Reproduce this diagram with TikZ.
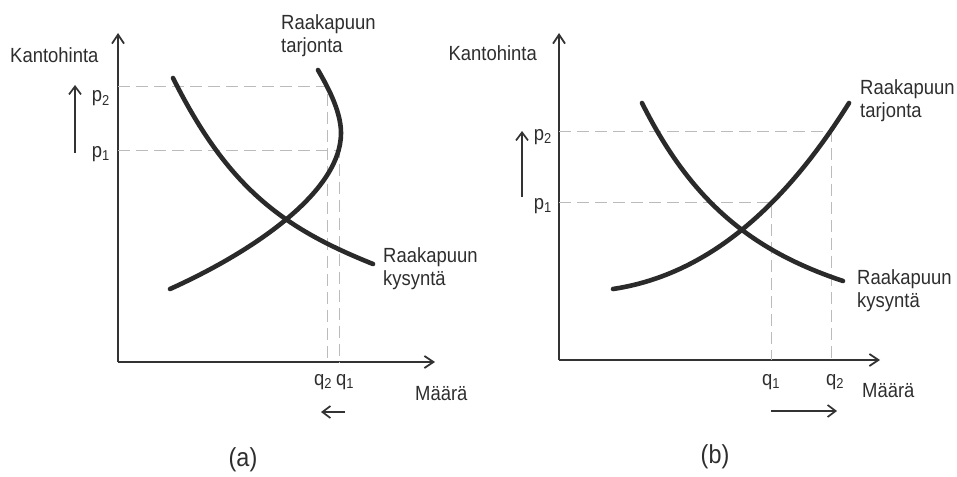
\documentclass[tikz,border=0pt]{standalone}
\usepackage{fontspec}
\setmainfont{Liberation Sans}[FakeStretch=0.9]
\usetikzlibrary{arrows.meta}
\definecolor{axc}{HTML}{333333}
\definecolor{curc}{HTML}{2A2A2A}
\definecolor{guidec}{HTML}{BBBBBB}
\definecolor{txtc}{HTML}{2E2E2E}
\begin{document}
\begin{tikzpicture}[x=1pt,y=-1pt,
  axis/.style={draw=axc, line width=1.6pt, -{Straight Barb[length=9pt,width=12pt,line width=1.8pt]}},
  curve/.style={draw=curc, line width=4.6pt, line cap=round},
  guide/.style={draw=guidec, line width=0.8pt, dash pattern=on 12pt off 6pt},
  move/.style={draw=axc, line width=1.4pt, -{Straight Barb[length=8pt,width=12pt,line width=1.7pt]}},
  lbl/.style={inner sep=0pt, font=\fontsize{20.5}{23.5}\selectfont, text=txtc},
  sub/.style={inner sep=0pt, font=\fontsize{20.5}{23.5}\selectfont, text=txtc},
  figcap/.style={inner sep=0pt, font=\fontsize{26}{30}\selectfont, text=txtc}]
\useasboundingbox (0,0) rectangle (957,476);

% ---------- panel (a) ----------
\coordinate (oa) at (118,362);
\coordinate (ya) at (118,33);
\coordinate (xa) at (435,362);
\draw[axis] (oa) -- (ya);
\draw[axis] (oa) -- (xa);

\coordinate (p2a) at (118,86.7);
\coordinate (s2a) at (327,86.7);
\coordinate (q2a) at (327,362);
\coordinate (p1a) at (118,150.7);
\coordinate (s1a) at (339,150.7);
\coordinate (q1a) at (339,362);
\draw[guide] (p2a) -- (s2a) -- (q2a);
\draw[guide] (p1a) -- (s1a) -- (q1a);

\draw[curve] (173,78) .. controls (228,188) and (283,228) .. (373,264);
\draw[curve] (170,289) .. controls (250,253) and (341,193) .. (341,133)
             .. controls (341,110) and (326,84) .. (318,70);

\node[lbl, anchor=west] (ka) at (10,55) {Kantohinta};
\node[lbl, anchor=north west, align=left] (ta) at (281,14) {Raakapuun\\tarjonta};
\node[lbl, anchor=north west, align=left] (da) at (383,247) {Raakapuun\\kysyntä};
\node[lbl, anchor=west] (ma) at (415,394) {Määrä};
\node[sub, anchor=base east] (lp2a) at (110,102) {p\textsubscript{2}};
\node[sub, anchor=base east] (lp1a) at (110,157) {p\textsubscript{1}};
\node[sub, anchor=base] (lq2a) at (323,385) {q\textsubscript{2}};
\node[sub, anchor=base] (lq1a) at (345,385) {q\textsubscript{1}};
\node[figcap] (capa) at (243,460) {(a)};

\coordinate (ua0) at (75,153);
\coordinate (ua1) at (75,85);
\draw[move] (ua0) -- (ua1);
\coordinate (la0) at (345,412);
\coordinate (la1) at (321,412);
\draw[move] (la0) -- (la1);

% ---------- panel (b) ----------
\coordinate (ob) at (559,360);
\coordinate (yb) at (559,33);
\coordinate (xb) at (880,360);
\draw[axis] (ob) -- (yb);
\draw[axis] (ob) -- (xb);

\coordinate (p2b) at (559,131.7);
\coordinate (s2b) at (831,131.7);
\coordinate (q2b) at (831,360);
\coordinate (p1b) at (559,202);
\coordinate (s1b) at (771,202);
\coordinate (q1b) at (771,360);
\draw[guide] (p2b) -- (s2b) -- (q2b);
\draw[guide] (p1b) -- (s1b) -- (q1b);

\draw[curve] (642,103) .. controls (692,203) and (753,251) .. (843,281);
\draw[curve] (613,289) .. controls (713,274) and (789,199) .. (849,103);

\node[lbl, anchor=east] (kb) at (537,53) {Kantohinta};
\node[lbl, anchor=north west, align=left] (tb) at (860,79) {Raakapuun\\tarjonta};
\node[lbl, anchor=north west, align=left] (db) at (857,269) {Raakapuun\\kysyntä};
\node[lbl, anchor=west] (mb) at (862,391) {Määrä};
\node[sub, anchor=base east] (lp2b) at (552,140) {p\textsubscript{2}};
\node[sub, anchor=base east] (lp1b) at (552,209) {p\textsubscript{1}};
\node[sub, anchor=base] (lq1b) at (771,385) {q\textsubscript{1}};
\node[sub, anchor=base] (lq2b) at (835,385) {q\textsubscript{2}};
\node[figcap] (capb) at (715,457) {(b)};

\coordinate (ub0) at (522,197);
\coordinate (ub1) at (522,131);
\draw[move] (ub0) -- (ub1);
\coordinate (rb0) at (771,411);
\coordinate (rb1) at (837,411);
\draw[move] (rb0) -- (rb1);
\end{tikzpicture}
\end{document}
